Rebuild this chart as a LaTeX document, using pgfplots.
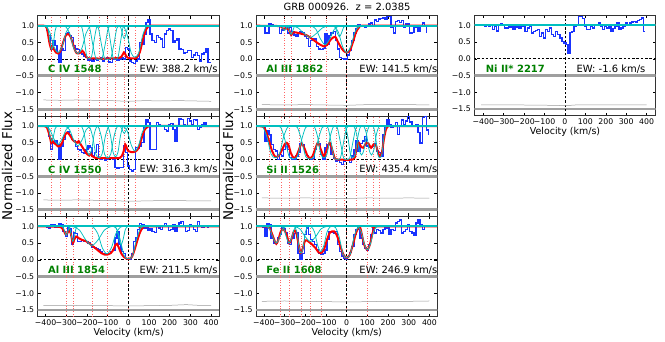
\documentclass[border=0pt]{standalone}
\usepackage{pgfplots}
\pgfplotsset{compat=1.18}
\usepackage{fontspec}
\setmainfont{DejaVu Sans}
\definecolor{mplc}{rgb}{0,0.75,0.75}
\definecolor{mplg}{rgb}{0,0.5,0}
\definecolor{mplb}{rgb}{0.1,0.2,1}

\pgfplotsset{
  panel/.style={scale only axis, width=181.3bp, height=100.3bp, anchor=south west,
    xmin=-438, xmax=438, ymin=-1.7, ymax=1.3,
    xtick={-400,-300,-200,-100,0,100,200,300,400},
    ytick={-1.5,-1,-0.5,0,0.5,1},
    yticklabels={−1.5,−1.0,−0.5,0.0,0.5,1.0},
    xticklabels={−400,−300,−200,−100,0,100,200,300,400},
    tick align=inside, major tick length=3bp,
    tick style={black, line width=0.5pt},
    axis line style={black!80, line width=0.7pt},
    ticklabel style={font=\fontsize{7.8}{8}\selectfont}},
  nox/.style={xticklabels={}},
}
\tikzset{
  band/.style={gray!75, line width=2.8bp},
  vel/.style={red!60, dotted, line width=0.6pt},
  zl/.style={black, dash pattern=on 2.5bp off 1.8bp, line width=0.8pt},
  errl/.style={gray!80, line width=0.5pt},
  dat/.style={mplb, line width=1.35pt, const plot mark mid},
  model/.style={red, line width=2pt, smooth},
  comp/.style={mplc, line width=0.75pt, smooth},
  flat/.style={mplc, line width=1.9pt},
  lab/.style={anchor=west, text=mplg, font=\bfseries\fontsize{10}{12}\selectfont},
  ew/.style={anchor=west, font=\fontsize{10}{12}\selectfont},
}

\newcommand\basics[1]{%
  \addplot[band] coordinates {(-450,-0.5) (450,-0.5)};
  \addplot[band] coordinates {(-450,-1.5) (450,-1.5)};
  \pgfplotsinvokeforeach{#1}{\addplot[vel] coordinates {(##1,-1.7) (##1,1.3)};}
  \addplot[zl] coordinates {(-450,1) (450,1)};
  \addplot[zl] coordinates {(-450,0) (450,0)};
  \addplot[zl] coordinates {(0,-1.7) (0,1.3)};
}

\begin{document}
\begin{tikzpicture}
\path[use as bounding box] (0,0) rectangle (665bp,342bp);

% ---------- C IV 1548
\begin{axis}[panel, nox, at={(37.7bp,226bp)}]
\basics{-370,-328,-244,-189,-142,-100,-65,-20,32}
\addplot[errl] coordinates {(-410,-1.22)(-330,-1.23)(-250,-1.22)(-170,-1.23)(-90,-1.24)(0,-1.26)(80,-1.24)(160,-1.25)(240,-1.24)(320,-1.25)(400,-1.26)};
\addplot[dat] coordinates {(-410,1.0)(-400,1.0)(-390,0.85)(-380,0.7)(-370,0.3)(-360,0.55)(-350,0.4)(-340,0.2)(-330,-0.1)(-320,0.3)(-310,0.25)(-300,0.75)(-290,0.8)(-280,0.7)(-270,0.65)(-260,0.4)(-250,0.3)(-240,0.28)(-230,0.2)(-220,0.15)(-210,0.08)(-200,0.05)(-190,-0.02)(-180,0.02)(-170,-0.05)(-160,0.0)(-150,-0.03)(-140,0.02)(-130,0.05)(-120,-0.05)(-110,0.0)(-100,0.05)(-90,-0.08)(-80,-0.1)(-70,0.0)(-60,0.02)(-50,-0.02)(-40,0.0)(-30,0.03)(-20,0.0)(-10,0.35)(0,0.3)(10,-0.05)(20,-0.1)(30,-0.12)(40,-0.05)(50,0.0)(60,0.5)(70,0.45)(80,0.75)(90,1.1)(100,1.17)(110,0.75)(120,0.55)(130,0.5)(140,0.7)(150,0.65)(160,0.6)(170,0.35)(180,0.75)(190,0.85)(200,0.9)(210,0.85)(220,0.5)(230,0.55)(240,0.6)(250,0.3)(260,0.28)(270,0.18)(280,0.2)(290,0.25)(300,0.25)(310,0.05)(320,0.12)(330,0.2)(340,0.1)(350,-0.05)(360,0.15)(370,0.2)(380,0.3)(390,-0.1)(400,-0.1)};
\addplot[model] coordinates {(-450,1)(-400,0.99)(-390,0.8)(-380,0.45)(-372,0.3)(-368,0.38)(-360,0.3)(-350,0.2)(-340,0.17)(-330,0.22)(-320,0.4)(-310,0.6)(-300,0.73)(-290,0.75)(-280,0.68)(-270,0.5)(-260,0.3)(-250,0.18)(-240,0.17)(-230,0.2)(-222,0.25)(-215,0.2)(-205,0.08)(-195,0.03)(-150,0.02)(-100,0.02)(-60,0.03)(-35,0.06)(-22,0.2)(-15,0.15)(-5,0.05)(20,0.02)(40,0.04)(55,0.2)(65,0.45)(75,0.7)(85,0.88)(95,0.97)(110,1)(450,1)};
\addplot[flat] coordinates {(-450,1)(450,1)};
\addplot[comp] coordinates {(-402,1)(-394,0.987)(-386,0.85)(-378,0.48)(-370,0.30)(-362,0.48)(-354,0.85)(-346,0.987)(-338,1)};
\addplot[comp] coordinates {(-420,1)(-400,0.98)(-380,0.81)(-360,0.38)(-340,0.20)(-320,0.38)(-300,0.81)(-280,0.98)(-260,1)};
\addplot[comp] coordinates {(-324,1)(-304,0.98)(-284,0.78)(-264,0.335)(-244,0.165)(-224,0.335)(-204,0.78)(-184,0.98)(-164,1)};
\addplot[comp] coordinates {(-237,1)(-225,0.957)(-213,0.58)(-201,0.088)(-189,0.018)(-177,0.088)(-165,0.58)(-153,0.957)(-141,1)};
\addplot[comp] coordinates {(-202,1)(-187,0.936)(-172,0.44)(-157,0.026)(-142,0.003)(-127,0.026)(-112,0.44)(-97,0.936)(-82,1)};
\addplot[comp] coordinates {(-160,1)(-145,0.936)(-130,0.44)(-115,0.026)(-100,0.003)(-85,0.026)(-70,0.44)(-55,0.936)(-40,1)};
\addplot[comp] coordinates {(-110,1)(-98,0.946)(-86,0.51)(-74,0.048)(-62,0.007)(-50,0.048)(-38,0.51)(-26,0.946)(-14,1)};
\addplot[comp] coordinates {(-52,1)(-44,0.995)(-36,0.935)(-28,0.738)(-20,0.61)(-12,0.738)(-4,0.935)(4,0.995)(12,1)};
\addplot[comp] coordinates {(-40,1)(-22,0.97)(-4,0.685)(14,0.18)(32,0.06)(50,0.18)(68,0.685)(86,0.97)(104,1)};
\node[lab] at (axis cs:-405,-0.3) {C IV 1548};
\node[ew] at (axis cs:38,-0.3) {EW: 388.2 km/s};
\end{axis}

% ---------- C IV 1550
\begin{axis}[panel, nox, at={(37.7bp,125.7bp)}]
\basics{-370,-328,-244,-189,-142,-100,-65,-20,32}
\addplot[errl] coordinates {(-410,-1.21)(-330,-1.22)(-250,-1.21)(-170,-1.22)(-90,-1.23)(0,-1.25)(80,-1.24)(160,-1.23)(240,-1.23)(320,-1.24)(400,-1.24)};
\addplot[dat] coordinates {(-410,1.0)(-400,1.02)(-390,1.0)(-380,0.68)(-370,0.29)(-360,0.5)(-350,0.55)(-340,0.45)(-330,0.0)(-320,0.4)(-310,0.6)(-300,0.78)(-290,0.82)(-280,0.75)(-270,0.6)(-260,0.55)(-250,0.38)(-240,0.3)(-230,0.28)(-220,0.2)(-210,0.18)(-200,0.3)(-190,0.4)(-180,0.35)(-170,0.1)(-160,0.2)(-150,0.45)(-140,0.05)(-130,0.0)(-120,0.02)(-110,-0.02)(-100,0.0)(-90,0.02)(-80,0.05)(-70,0.0)(-60,-0.25)(-50,-0.26)(-40,-0.24)(-30,-0.25)(-20,0.4)(-10,0.2)(0,-0.2)(10,-0.3)(20,-0.35)(30,-0.3)(40,0.35)(50,0.32)(60,0.4)(70,0.5)(80,0.95)(90,1.18)(100,1.1)(110,0.3)(120,0.29)(130,0.3)(140,1.1)(150,1.05)(160,1.0)(170,1.02)(180,0.9)(190,0.85)(200,1.05)(210,1.08)(220,0.9)(230,0.55)(240,0.98)(250,1.22)(260,1.2)(270,1.05)(280,1.02)(290,1.22)(300,1.15)(310,1.05)(320,1.2)(330,1.18)(340,0.9)(350,0.95)(360,1.05)(370,1.1)(380,1.02)(390,1.0)(400,1.0)};
\addplot[model] coordinates {(-450,1)(-400,0.99)(-390,0.9)(-380,0.7)(-373,0.5)(-368,0.58)(-362,0.5)(-350,0.45)(-340,0.39)(-330,0.4)(-320,0.5)(-310,0.68)(-298,0.8)(-290,0.78)(-280,0.7)(-268,0.58)(-258,0.53)(-248,0.5)(-240,0.55)(-230,0.45)(-220,0.35)(-205,0.2)(-190,0.12)(-182,0.18)(-175,0.1)(-160,0.05)(-120,0.04)(-80,0.04)(-40,0.05)(-25,0.2)(-15,0.45)(-8,0.35)(0,0.25)(15,0.22)(35,0.24)(50,0.35)(60,0.55)(70,0.75)(80,0.9)(95,0.98)(110,1)(450,1)};
\addplot[flat] coordinates {(-450,1)(450,1)};
\addplot[comp] coordinates {(-402,1)(-394,0.993)(-386,0.92)(-378,0.69)(-370,0.55)(-362,0.69)(-354,0.92)(-346,0.993)(-338,1)};
\addplot[comp] coordinates {(-420,1)(-400,0.99)(-380,0.90)(-360,0.62)(-340,0.45)(-320,0.62)(-300,0.90)(-280,0.99)(-260,1)};
\addplot[comp] coordinates {(-324,1)(-304,0.99)(-284,0.886)(-264,0.58)(-244,0.41)(-224,0.58)(-204,0.886)(-184,0.99)(-164,1)};
\addplot[comp] coordinates {(-237,1)(-225,0.978)(-213,0.76)(-201,0.30)(-189,0.135)(-177,0.30)(-165,0.76)(-153,0.978)(-141,1)};
\addplot[comp] coordinates {(-202,1)(-187,0.967)(-172,0.67)(-157,0.16)(-142,0.05)(-127,0.16)(-112,0.67)(-97,0.967)(-82,1)};
\addplot[comp] coordinates {(-160,1)(-145,0.967)(-130,0.67)(-115,0.16)(-100,0.05)(-85,0.16)(-70,0.67)(-55,0.967)(-40,1)};
\addplot[comp] coordinates {(-110,1)(-98,0.973)(-86,0.71)(-74,0.22)(-62,0.08)(-50,0.22)(-38,0.71)(-26,0.973)(-14,1)};
\addplot[comp] coordinates {(-52,1)(-44,0.997)(-36,0.967)(-28,0.86)(-20,0.78)(-12,0.86)(-4,0.967)(4,0.997)(12,1)};
\addplot[comp] coordinates {(-40,1)(-22,0.985)(-4,0.83)(14,0.43)(32,0.25)(50,0.43)(68,0.83)(86,0.985)(104,1)};
\node[lab] at (axis cs:-405,-0.3) {C IV 1550};
\node[ew] at (axis cs:38,-0.3) {EW: 316.3 km/s};
\end{axis}

% ---------- Al III 1854
\begin{axis}[panel, at={(37.7bp,25.3bp)}]
\basics{-300,-268,-176,-104,0}
\addplot[errl] coordinates {(-410,-1.36)(-300,-1.36)(-200,-1.37)(-100,-1.37)(0,-1.38)(100,-1.37)(200,-1.36)(280,-1.34)(340,-1.36)(400,-1.36)};
\addplot[dat] coordinates {(-410,1.0)(-400,0.99)(-390,0.96)(-380,0.95)(-370,1.04)(-360,1.05)(-350,0.98)(-340,1.0)(-330,1.08)(-320,1.05)(-310,0.85)(-300,0.7)(-290,0.95)(-280,0.92)(-270,0.45)(-260,0.8)(-250,0.78)(-240,0.55)(-230,0.55)(-220,0.58)(-210,0.55)(-200,0.55)(-190,0.5)(-180,0.45)(-170,0.38)(-160,0.35)(-150,0.32)(-140,0.3)(-130,0.25)(-120,0.2)(-110,0.2)(-100,0.18)(-90,0.2)(-80,0.25)(-70,0.3)(-60,0.65)(-50,0.85)(-40,0.45)(-30,0.25)(-20,0.2)(-10,0.05)(0,0.02)(10,0.03)(20,0.2)(30,0.55)(40,0.65)(50,0.9)(60,1.09)(70,1.05)(80,0.95)(90,0.98)(100,0.88)(110,0.92)(120,0.85)(130,0.82)(140,1.02)(150,0.95)(160,0.9)(170,1.02)(180,1.09)(190,1.0)(200,0.88)(210,0.9)(220,1.05)(230,0.85)(240,1.02)(250,1.1)(260,1.14)(270,1.0)(280,0.85)(290,0.88)(300,1.05)(310,1.02)(320,0.9)(330,0.85)(340,1.14)(350,1.0)(360,0.98)(370,1.0)(380,0.99)(390,0.98)};
\addplot[model] coordinates {(-450,1)(-340,0.99)(-318,0.93)(-305,0.78)(-300,0.76)(-295,0.8)(-285,0.88)(-278,0.78)(-268,0.5)(-262,0.6)(-252,0.7)(-240,0.65)(-225,0.6)(-205,0.56)(-190,0.5)(-170,0.4)(-150,0.3)(-130,0.2)(-115,0.16)(-100,0.16)(-85,0.2)(-74,0.28)(-62,0.45)(-55,0.48)(-45,0.35)(-35,0.2)(-20,0.08)(-5,0.03)(5,0.03)(18,0.1)(30,0.3)(42,0.55)(55,0.8)(68,0.95)(85,1)(450,1)};
\addplot[flat] coordinates {(-450,1)(450,1)};
\addplot[comp] coordinates {(-328,1)(-321,0.997)(-314,0.96)(-307,0.834)(-300,0.74)(-293,0.834)(-286,0.96)(-279,0.997)(-272,1)};
\addplot[comp] coordinates {(-296,1)(-289,0.993)(-282,0.92)(-275,0.69)(-268,0.55)(-261,0.69)(-254,0.92)(-247,0.993)(-240,1)};
\addplot[comp] coordinates {(-296,1)(-266,0.99)(-236,0.89)(-206,0.60)(-176,0.43)(-146,0.60)(-116,0.89)(-86,0.99)(-56,1)};
\addplot[comp] coordinates {(-192,1)(-170,0.98)(-148,0.79)(-126,0.36)(-104,0.18)(-82,0.36)(-60,0.79)(-38,0.98)(-16,1)};
\addplot[comp] coordinates {(-75,1)(-65,0.99)(-55,0.90)(-45,0.62)(-35,0.45)(-25,0.62)(-15,0.90)(-5,0.99)(5,1)};
\addplot[comp] coordinates {(-80,1)(-60,0.96)(-40,0.62)(-20,0.12)(0,0.03)(20,0.12)(40,0.62)(60,0.96)(80,1)};
\node[lab] at (axis cs:-405,-0.3) {Al III 1854};
\node[ew] at (axis cs:38,-0.3) {EW: 211.5 km/s};
\end{axis}

% ---------- Al III 1862
\begin{axis}[panel, nox, at={(256bp,226bp)}]
\basics{-303,-269,-177,-100,0}
\addplot[errl] coordinates {(-410,-1.36)(-300,-1.37)(-200,-1.36)(-100,-1.37)(0,-1.38)(100,-1.36)(200,-1.36)(300,-1.36)(400,-1.37)};
\addplot[dat] coordinates {(-410,1.0)(-400,0.98)(-390,0.77)(-380,0.78)(-370,1.05)(-360,1.02)(-350,1.0)(-340,1.0)(-330,0.98)(-320,0.77)(-310,0.87)(-300,0.92)(-290,0.98)(-280,0.78)(-270,0.95)(-260,0.82)(-250,0.72)(-240,0.68)(-230,0.8)(-220,0.82)(-210,0.78)(-200,0.68)(-190,0.62)(-180,0.38)(-170,0.55)(-160,0.62)(-150,0.6)(-140,0.38)(-130,0.3)(-120,0.28)(-110,0.32)(-100,0.75)(-90,0.45)(-80,0.7)(-70,0.78)(-60,0.82)(-50,0.55)(-40,0.3)(-30,0.05)(-20,0.02)(-10,0.0)(0,0.0)(10,0.12)(20,0.25)(30,0.55)(40,0.78)(50,0.92)(60,1.02)(70,0.98)(80,1.0)(90,0.95)(100,0.98)(110,1.05)(120,1.08)(130,1.0)(140,1.17)(150,1.12)(160,1.2)(170,1.22)(180,1.25)(190,1.2)(200,1.27)(210,1.27)(220,0.95)(230,0.78)(240,1.12)(250,1.15)(260,1.1)(270,1.15)(280,0.95)(290,1.05)(300,1.05)(310,0.78)(320,0.8)(330,0.95)(340,0.97)(350,0.82)(360,0.98)(370,1.08)(380,0.98)(390,0.8)};
\addplot[model] coordinates {(-450,1)(-330,0.99)(-310,0.93)(-300,0.89)(-292,0.92)(-280,0.9)(-268,0.72)(-260,0.8)(-245,0.8)(-220,0.76)(-195,0.72)(-170,0.62)(-140,0.48)(-110,0.38)(-95,0.42)(-75,0.6)(-55,0.67)(-45,0.55)(-30,0.38)(-15,0.25)(0,0.2)(15,0.25)(30,0.5)(45,0.8)(60,0.95)(75,1)(450,1)};
\addplot[flat] coordinates {(-450,1)(450,1)};
\addplot[comp] coordinates {(-328,1)(-321,1)(-314,0.98)(-307,0.91)(-300,0.86)(-293,0.91)(-286,0.98)(-279,1)(-272,1)};
\addplot[comp] coordinates {(-296,1)(-289,0.997)(-282,0.96)(-275,0.834)(-268,0.74)(-261,0.834)(-254,0.96)(-247,0.997)(-240,1)};
\addplot[comp] coordinates {(-296,1)(-266,0.995)(-236,0.94)(-206,0.77)(-176,0.65)(-146,0.77)(-116,0.94)(-86,0.995)(-56,1)};
\addplot[comp] coordinates {(-192,1)(-170,0.99)(-148,0.89)(-126,0.60)(-104,0.43)(-82,0.60)(-60,0.89)(-38,0.99)(-16,1)};
\addplot[comp] coordinates {(-75,1)(-65,0.996)(-55,0.95)(-45,0.78)(-35,0.67)(-25,0.78)(-15,0.95)(-5,0.996)(5,1)};
\addplot[comp] coordinates {(-80,1)(-60,0.98)(-40,0.81)(-20,0.38)(0,0.20)(20,0.38)(40,0.81)(60,0.98)(80,1)};
\node[lab] at (axis cs:-405,-0.3) {Al III 1862};
\node[ew] at (axis cs:45,-0.3) {EW: 141.5 km/s};
\end{axis}

% ---------- Si II 1526
\begin{axis}[panel, nox, at={(256bp,125.7bp)}]
\basics{-376,-316,-275,-227,-162,-130,-97,-52,-13,45,94,129,158}
\addplot[errl] coordinates {(-410,-1.15)(-300,-1.16)(-200,-1.15)(-100,-1.16)(0,-1.17)(100,-1.15)(200,-1.16)(300,-1.15)(400,-1.16)};
\addplot[dat] coordinates {(-410,1.0)(-400,1.0)(-390,0.53)(-380,0.85)(-370,0.75)(-360,0.45)(-350,0.29)(-340,0.25)(-330,0.0)(-320,0.15)(-310,0.1)(-300,0.3)(-290,0.45)(-280,0.3)(-270,0.05)(-260,0.0)(-250,0.0)(-240,0.1)(-230,0.2)(-220,0.48)(-210,0.45)(-200,0.2)(-190,0.12)(-180,0.02)(-170,0.0)(-160,0.02)(-150,0.3)(-140,0.45)(-130,0.48)(-120,0.15)(-110,0.0)(-100,0.35)(-90,0.45)(-80,0.48)(-70,0.15)(-60,0.02)(-50,-0.05)(-40,-0.02)(-30,-0.1)(-20,-0.16)(-10,-0.05)(0,0.0)(10,0.0)(20,-0.1)(30,0.1)(40,0.3)(50,0.55)(60,0.25)(70,0.48)(80,0.55)(90,0.68)(100,0.4)(110,0.35)(120,0.35)(130,0.38)(140,0.48)(150,0.25)(160,0.2)(170,0.1)(180,0.75)(190,0.95)(200,1.18)(210,1.05)(220,0.95)(230,0.98)(240,1.1)(250,0.75)(260,1.02)(270,1.18)(280,1.05)(290,1.15)(300,1.28)(310,1.12)(320,1.0)(330,1.0)(340,1.05)(350,0.8)(360,0.49)(370,1.25)(380,1.28)(390,0.88)(400,0.75)};
\addplot[model] coordinates {(-450,1)(-405,0.98)(-390,0.85)(-375,0.55)(-360,0.25)(-345,0.08)(-330,0.1)(-315,0.25)(-300,0.45)(-290,0.5)(-280,0.42)(-270,0.2)(-258,0.06)(-245,0.08)(-230,0.3)(-218,0.48)(-205,0.35)(-190,0.12)(-178,0.04)(-165,0.1)(-150,0.35)(-138,0.5)(-125,0.3)(-110,0.1)(-95,0.3)(-82,0.5)(-70,0.3)(-58,0.05)(-45,0.0)(30,0.0)(42,0.15)(52,0.45)(60,0.5)(68,0.4)(80,0.35)(95,0.5)(105,0.48)(118,0.35)(130,0.45)(142,0.42)(152,0.2)(160,0.1)(170,0.2)(180,0.6)(190,0.9)(200,0.99)(210,1)(450,1)};
\addplot[flat] coordinates {(-450,1)(450,1)};
\addplot[comp] coordinates {(-425,1)(-405,0.967)(-385,0.67)(-365,0.16)(-345,0.05)(-325,0.16)(-305,0.67)(-285,0.967)(-265,1)};
\addplot[comp] coordinates {(-338,1)(-318,0.957)(-298,0.58)(-278,0.088)(-258,0.018)(-238,0.088)(-218,0.58)(-198,0.957)(-178,1)};
\addplot[comp] coordinates {(-258,1)(-238,0.957)(-218,0.58)(-198,0.088)(-178,0.018)(-158,0.088)(-138,0.58)(-118,0.957)(-98,1)};
\addplot[comp] coordinates {(-170,1)(-155,0.967)(-140,0.67)(-125,0.16)(-110,0.05)(-95,0.16)(-80,0.67)(-65,0.967)(-50,1)};
\addplot[comp] coordinates {(-105,1)(-90,0.946)(-75,0.51)(-60,0.048)(-45,0.007)(-30,0.048)(-15,0.51)(0,0.946)(15,1)};
\addplot[comp] coordinates {(-60,1)(-45,0.946)(-30,0.51)(-15,0.048)(0,0.007)(15,0.048)(30,0.51)(45,0.946)(60,1)};
\addplot[comp] coordinates {(-18,1)(-6,0.967)(6,0.67)(18,0.16)(30,0.05)(42,0.16)(54,0.67)(66,0.967)(78,1)};
\addplot[comp] coordinates {(24,1)(36,0.978)(48,0.76)(60,0.30)(72,0.135)(84,0.30)(96,0.76)(108,0.978)(120,1)};
\addplot[comp] coordinates {(72,1)(84,0.978)(96,0.76)(108,0.30)(120,0.135)(132,0.30)(144,0.76)(156,0.978)(168,1)};
\addplot[comp] coordinates {(120,1)(130,0.967)(140,0.67)(150,0.16)(160,0.05)(170,0.16)(180,0.67)(190,0.967)(200,1)};
\node[lab] at (axis cs:-405,-0.3) {Si II 1526};
\node[ew] at (axis cs:45,-0.3) {EW: 435.4 km/s};
\end{axis}

% ---------- Fe II 1608
\begin{axis}[panel, at={(256bp,25.3bp)}]
\basics{-319,-278,-218,-175,-121,0,102}
\addplot[errl] coordinates {(-410,-1.24)(-300,-1.23)(-200,-1.24)(-100,-1.25)(0,-1.26)(100,-1.25)(200,-1.24)(300,-1.24)(400,-1.23)};
\addplot[dat] coordinates {(-410,1.0)(-400,0.98)(-390,0.7)(-380,1.09)(-370,1.05)(-360,0.65)(-350,0.5)(-340,0.5)(-330,0.65)(-320,0.75)(-310,0.95)(-300,0.92)(-290,0.8)(-280,0.5)(-270,0.45)(-260,0.65)(-250,0.78)(-240,0.8)(-230,0.2)(-220,0.01)(-210,0.2)(-200,0.75)(-190,0.95)(-180,0.75)(-170,0.6)(-160,0.55)(-150,0.45)(-140,0.3)(-130,0.2)(-120,0.16)(-110,0.2)(-100,0.3)(-90,0.6)(-80,0.85)(-70,0.82)(-60,0.8)(-50,0.85)(-40,0.45)(-30,0.25)(-20,0.12)(-10,0.05)(0,0.01)(10,0.1)(20,0.22)(30,0.4)(40,0.75)(50,0.9)(60,1.0)(70,0.65)(80,0.45)(90,0.35)(100,0.3)(110,0.45)(120,0.75)(130,0.95)(140,0.8)(150,0.9)(160,0.88)(170,0.8)(180,0.9)(190,0.95)(200,0.95)(210,0.75)(220,0.9)(230,0.88)(240,1.1)(250,1.15)(260,1.19)(270,0.8)(280,0.85)(290,0.9)(300,1.05)(310,0.85)(320,0.8)(330,0.72)(340,1.1)(350,1.19)(360,1.05)(370,0.9)(380,1.0)(390,1.0)};
\addplot[model] coordinates {(-450,1)(-380,0.99)(-365,0.85)(-350,0.6)(-340,0.48)(-330,0.6)(-318,0.85)(-305,0.92)(-290,0.75)(-278,0.5)(-268,0.6)(-255,0.85)(-245,0.85)(-235,0.55)(-222,0.2)(-212,0.35)(-200,0.58)(-185,0.55)(-165,0.45)(-150,0.35)(-135,0.22)(-125,0.2)(-110,0.3)(-95,0.6)(-80,0.82)(-60,0.85)(-45,0.7)(-30,0.4)(-15,0.15)(0,0.06)(15,0.15)(30,0.45)(45,0.8)(58,0.97)(65,0.98)(72,0.8)(85,0.45)(100,0.3)(112,0.45)(125,0.8)(135,0.95)(150,1)(450,1)};
\addplot[flat] coordinates {(-450,1)(450,1)};
\addplot[comp] coordinates {(-400,1)(-385,0.992)(-370,0.91)(-355,0.654)(-340,0.50)(-325,0.654)(-310,0.91)(-295,0.992)(-280,1)};
\addplot[comp] coordinates {(-326,1)(-314,0.992)(-302,0.91)(-290,0.654)(-278,0.50)(-266,0.654)(-254,0.91)(-242,0.992)(-230,1)};
\addplot[comp] coordinates {(-260,1)(-250,0.98)(-240,0.81)(-230,0.38)(-220,0.20)(-210,0.38)(-200,0.81)(-190,0.98)(-180,1)};
\addplot[comp] coordinates {(-275,1)(-250,0.993)(-225,0.92)(-200,0.69)(-175,0.55)(-150,0.69)(-125,0.92)(-100,0.993)(-75,1)};
\addplot[comp] coordinates {(-185,1)(-170,0.985)(-155,0.83)(-140,0.43)(-125,0.25)(-110,0.43)(-95,0.83)(-80,0.985)(-65,1)};
\addplot[comp] coordinates {(-72,1)(-54,0.97)(-36,0.685)(-18,0.18)(0,0.06)(18,0.18)(36,0.685)(54,0.97)(72,1)};
\addplot[comp] coordinates {(40,1)(55,0.987)(70,0.85)(85,0.48)(100,0.30)(115,0.48)(130,0.85)(145,0.987)(160,1)};
\node[lab] at (axis cs:-405,-0.3) {Fe II 1608};
\node[ew] at (axis cs:45,-0.3) {EW: 246.9 km/s};
\end{axis}

% ---------- Ni II* 2217
\begin{axis}[panel, xmin=-444, xmax=444, at={(474.3bp,226.3bp)}]
\basics{1000}
\addplot[errl] coordinates {(-410,-1.38)(-200,-1.38)(-50,-1.39)(0,-1.40)(50,-1.38)(200,-1.38)(400,-1.38)};
\addplot[dat] coordinates {(-400,1.0)(-390,0.97)(-380,1.02)(-370,0.98)(-360,1.0)(-350,0.87)(-340,0.97)(-330,0.83)(-320,1.02)(-310,1.05)(-300,1.0)(-290,0.92)(-280,0.92)(-270,0.95)(-260,0.99)(-250,0.87)(-240,0.97)(-230,0.95)(-220,0.92)(-210,0.98)(-200,1.02)(-190,0.82)(-180,0.92)(-170,0.97)(-160,0.77)(-150,0.82)(-140,0.85)(-130,0.87)(-120,0.67)(-110,0.77)(-100,0.62)(-90,0.87)(-80,0.82)(-70,0.92)(-60,0.72)(-50,0.67)(-40,0.82)(-30,0.72)(-20,0.62)(-10,0.52)(0,0.47)(10,0.42)(20,0.18)(30,0.78)(40,0.82)(50,0.97)(60,1.02)(70,1.27)(80,1.27)(90,1.2)(100,0.97)(110,0.87)(120,0.87)(130,0.97)(140,0.92)(150,1.02)(160,1.02)(170,1.07)(180,0.97)(190,0.87)(200,0.97)(210,0.92)(220,0.97)(230,0.82)(240,0.9)(250,0.97)(260,1.07)(270,0.87)(280,0.92)(290,0.97)(300,1.07)(310,1.02)(320,1.07)(330,1.1)(340,1.12)(350,1.1)(360,1.15)(370,1.17)(380,1.22)(390,0.82)};
\addplot[red, line width=2pt] coordinates {(-450,1)(450,1)};
\addplot[flat] coordinates {(-450,1)(450,1)};
\node[lab] at (axis cs:-405,-0.3) {Ni II* 2217};
\node[ew] at (axis cs:40,-0.3) {EW: -1.6 km/s};
\end{axis}

% ---------- titles and labels
\node[font=\fontsize{10}{12}\selectfont] at (347bp,335bp) {GRB 000926.\ \ z = 2.0385};
\node[rotate=90, font=\fontsize{13.5}{15}\selectfont] at (7bp,176bp) {Normalized Flux};
\node[rotate=90, font=\fontsize{13.5}{15}\selectfont] at (228bp,176bp) {Normalized Flux};
\node[font=\fontsize{9.5}{11}\selectfont] at (128.7bp,9.3bp) {Velocity (km/s)};
\node[font=\fontsize{9.5}{11}\selectfont] at (346.7bp,9.3bp) {Velocity (km/s)};
\node[font=\fontsize{9.5}{11}\selectfont] at (565bp,210.3bp) {Velocity (km/s)};
\end{tikzpicture}
\end{document}
